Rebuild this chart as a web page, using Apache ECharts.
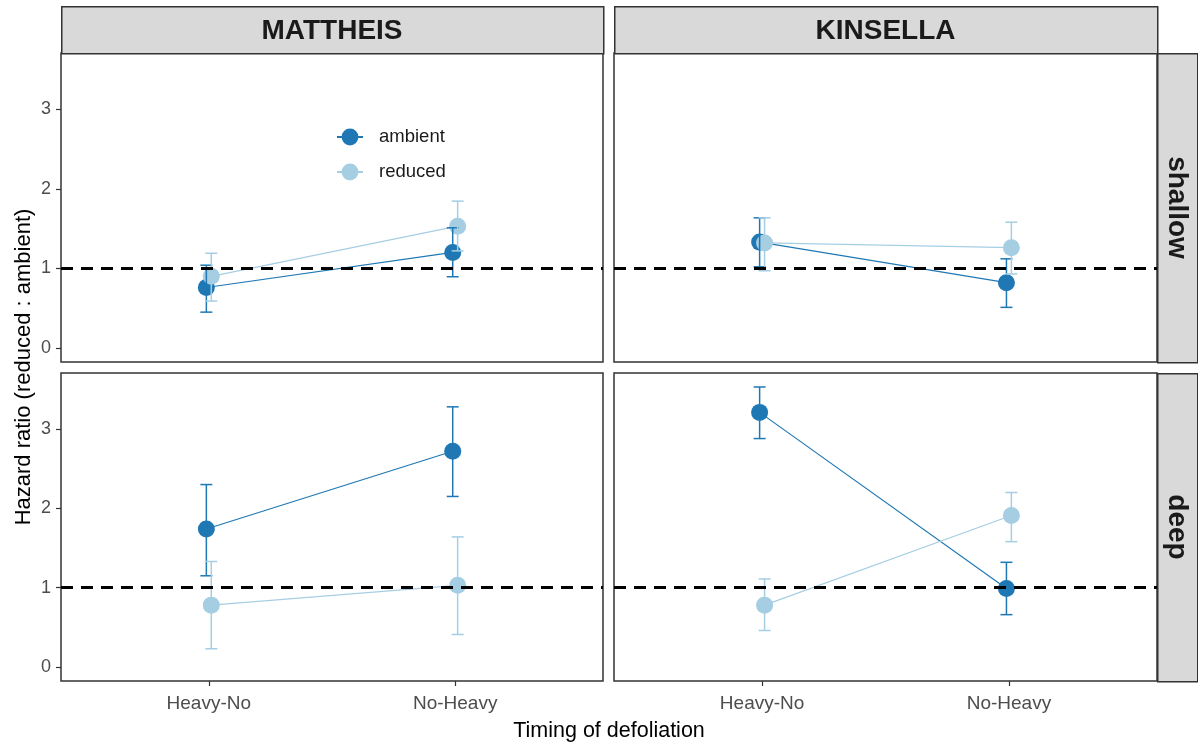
<!DOCTYPE html>
<html>
<head>
<meta charset="utf-8">
<script src="https://cdn.jsdelivr.net/npm/echarts@6/dist/echarts.min.js"></script>
<style>
html,body{margin:0;padding:0;background:#fff;}
#chart{width:1198px;height:744px;}
</style>
</head>
<body>
<div id="chart"></div>
<script>
// ---------- data ----------
const categories = ['Heavy-No', 'No-Heavy'];
const sites = ['MATTHEIS', 'KINSELLA'];
const depths = ['shallow', 'deep'];
const treatments = ['ambient', 'reduced'];
const yTicks = [0, 1, 2, 3];
const refValue = [1];

// hazard ratio estimates, order = categories
const mattheisShallowAmbient = [0.76, 1.20];
const mattheisShallowAmbientLow = [0.45, 0.895];
const mattheisShallowAmbientHigh = [1.04, 1.51];
const mattheisShallowReduced = [0.90, 1.53];
const mattheisShallowReducedLow = [0.59, 1.22];
const mattheisShallowReducedHigh = [1.19, 1.845];

const kinsellaShallowAmbient = [1.33, 0.82];
const kinsellaShallowAmbientLow = [1.02, 0.51];
const kinsellaShallowAmbientHigh = [1.635, 1.12];
const kinsellaShallowReduced = [1.32, 1.26];
const kinsellaShallowReducedLow = [0.97, 0.93];
const kinsellaShallowReducedHigh = [1.635, 1.58];

const mattheisDeepAmbient = [1.74, 2.72];
const mattheisDeepAmbientLow = [1.15, 2.15];
const mattheisDeepAmbientHigh = [2.30, 3.28];
const mattheisDeepReduced = [0.78, 1.03];
const mattheisDeepReducedLow = [0.23, 0.41];
const mattheisDeepReducedHigh = [1.33, 1.64];

const kinsellaDeepAmbient = [3.21, 0.99];
const kinsellaDeepAmbientLow = [2.88, 0.66];
const kinsellaDeepAmbientHigh = [3.53, 1.32];
const kinsellaDeepReduced = [0.78, 1.91];
const kinsellaDeepReducedLow = [0.46, 1.58];
const kinsellaDeepReducedHigh = [1.11, 2.20];

// ---------- build ----------
const panels = [
  {site: 0, depth: 0, amb: [mattheisShallowAmbient, mattheisShallowAmbientLow, mattheisShallowAmbientHigh], red: [mattheisShallowReduced, mattheisShallowReducedLow, mattheisShallowReducedHigh]},
  {site: 1, depth: 0, amb: [kinsellaShallowAmbient, kinsellaShallowAmbientLow, kinsellaShallowAmbientHigh], red: [kinsellaShallowReduced, kinsellaShallowReducedLow, kinsellaShallowReducedHigh]},
  {site: 0, depth: 1, amb: [mattheisDeepAmbient, mattheisDeepAmbientLow, mattheisDeepAmbientHigh], red: [mattheisDeepReduced, mattheisDeepReducedLow, mattheisDeepReducedHigh]},
  {site: 1, depth: 1, amb: [kinsellaDeepAmbient, kinsellaDeepAmbientLow, kinsellaDeepAmbientHigh], red: [kinsellaDeepReduced, kinsellaDeepReducedLow, kinsellaDeepReducedHigh]}
];

const colors = {ambient: '#1F78B4', reduced: '#A6CEE3'};
const dodge = {ambient: -0.01, reduced: 0.01};
const FONT = '"Liberation Sans", Arial, sans-serif';

const colLeft = [61, 614];
const colWidth = [542, 543];
const rowTop = [53, 373];
const rowHeight = [309, 308];

const grids = [], xAxes = [], yAxes = [], series = [];

function errRender(color) {
  return function (params, api) {
    const x = api.value(0), lo = api.value(1), hi = api.value(2);
    const pLo = api.coord([x, lo]);
    const pHi = api.coord([x, hi]);
    const hw = 6;
    const style = {stroke: color, lineWidth: 1.5, fill: null};
    return {
      type: 'group',
      children: [
        {type: 'line', shape: {x1: pLo[0], y1: pLo[1], x2: pHi[0], y2: pHi[1]}, style: style},
        {type: 'line', shape: {x1: pLo[0] - hw, y1: pLo[1], x2: pLo[0] + hw, y2: pLo[1]}, style: style},
        {type: 'line', shape: {x1: pHi[0] - hw, y1: pHi[1], x2: pHi[0] + hw, y2: pHi[1]}, style: style}
      ]
    };
  };
}

const catPos = categories.map(function (c, k) { return k + 1; });

panels.forEach(function (p, i) {
  const isBottom = p.depth === 1;
  const isLeft = p.site === 0;
  grids.push({
    left: colLeft[p.site], top: rowTop[p.depth],
    width: colWidth[p.site], height: rowHeight[p.depth],
    show: true, borderColor: '#333333', borderWidth: 1.5, backgroundColor: '#fff'
  });
  xAxes.push({
    type: 'value', gridIndex: i, min: 0.4, max: 2.6, position: 'bottom',
    splitLine: {show: false},
    axisLine: {show: false, onZero: false},
    axisTick: {show: isBottom, length: 5, lineStyle: {color: '#333333', width: 1.2}, customValues: catPos},
    axisLabel: {
      show: isBottom, margin: 13, fontSize: 19, fontFamily: FONT, color: '#4D4D4D',
      customValues: catPos,
      formatter: function (v) { return categories[Math.round(v) - 1] || ''; }
    }
  });
  yAxes.push({
    type: 'value', gridIndex: i, min: -0.1765, max: 3.7065, position: 'left',
    splitLine: {show: false},
    axisLine: {show: false, onZero: false},
    axisTick: {show: isLeft, length: 5, lineStyle: {color: '#333333', width: 1.2}, customValues: yTicks},
    axisLabel: {show: isLeft, margin: 10, fontSize: 18, fontFamily: FONT, color: '#4D4D4D', customValues: yTicks}
  });

  // reference line
  series.push({
    type: 'line', xAxisIndex: i, yAxisIndex: i, data: [], silent: true, z: 1,
    markLine: {
      silent: true, symbol: ['none', 'none'], label: {show: false},
      lineStyle: {color: '#000', width: 3, type: [12, 8]},
      emphasis: {disabled: true},
      data: refValue.map(function (v) { return {yAxis: v}; })
    }
  });

  treatments.forEach(function (t) {
    const arr = t === 'ambient' ? p.amb : p.red;
    const est = arr[0], lo = arr[1], hi = arr[2];
    series.push({
      name: t, type: 'line', xAxisIndex: i, yAxisIndex: i, z: 2,
      data: est.map(function (v, k) { return [k + 1 + dodge[t], v]; }),
      symbol: 'circle', symbolSize: 17,
      lineStyle: {color: colors[t], width: 1.2},
      itemStyle: {color: colors[t]},
      emphasis: {disabled: true}, animation: false
    });
    series.push({
      name: t, type: 'custom', xAxisIndex: i, yAxisIndex: i, z: 3,
      renderItem: errRender(colors[t]),
      data: est.map(function (v, k) { return [k + 1 + dodge[t], lo[k], hi[k]]; }),
      itemStyle: {color: colors[t]},
      animation: false
    });
  });
});

// strips and axis titles
const graphics = [];
sites.forEach(function (s, k) {
  graphics.push({
    type: 'rect', left: colLeft[k], top: 6, silent: true,
    shape: {x: 0, y: 0, width: colWidth[k], height: 47},
    style: {fill: '#D9D9D9', stroke: '#333333', lineWidth: 1.5}
  });
  graphics.push({
    type: 'text', x: colLeft[k] + colWidth[k] / 2, y: 31, silent: true,
    style: {text: s, fontSize: 28, fontWeight: 'bold', fontFamily: FONT, fill: '#1A1A1A', align: 'center', verticalAlign: 'middle'}
  });
});
depths.forEach(function (d, k) {
  graphics.push({
    type: 'rect', left: 1157, top: rowTop[k], silent: true,
    shape: {x: 0, y: 0, width: 40, height: rowHeight[k]},
    style: {fill: '#D9D9D9', stroke: '#333333', lineWidth: 1.5}
  });
  graphics.push({
    type: 'text', x: 1177, y: rowTop[k] + rowHeight[k] / 2, rotation: -Math.PI / 2, silent: true,
    style: {text: d, fontSize: 28, fontWeight: 'bold', fontFamily: FONT, fill: '#1A1A1A', align: 'center', verticalAlign: 'middle'}
  });
});
graphics.push({
  type: 'text', x: 24, y: 367, rotation: Math.PI / 2, silent: true,
  style: {text: 'Hazard ratio (reduced : ambient)', fontSize: 22, fontFamily: FONT, fill: '#000', align: 'center', verticalAlign: 'middle'}
});
graphics.push({
  type: 'text', x: 609, y: 731, silent: true,
  style: {text: 'Timing of defoliation', fontSize: 21.5, fontFamily: FONT, fill: '#000', align: 'center', verticalAlign: 'middle'}
});

const chart = echarts.init(document.getElementById('chart'), null, {renderer: 'canvas'});
chart.setOption({
  backgroundColor: '#fff',
  animation: false,
  grid: grids,
  xAxis: xAxes,
  yAxis: yAxes,
  legend: {
    data: treatments,
    left: 336, top: 127.5, orient: 'vertical', padding: 0,
    itemWidth: 26, itemHeight: 21, itemGap: 16,
    textStyle: {fontSize: 18.5, fontFamily: FONT, color: '#1A1A1A', padding: [0, 0, 0, 11]},
    selectedMode: false
  },
  series: series,
  graphic: graphics
});
</script>
</body>
</html>
